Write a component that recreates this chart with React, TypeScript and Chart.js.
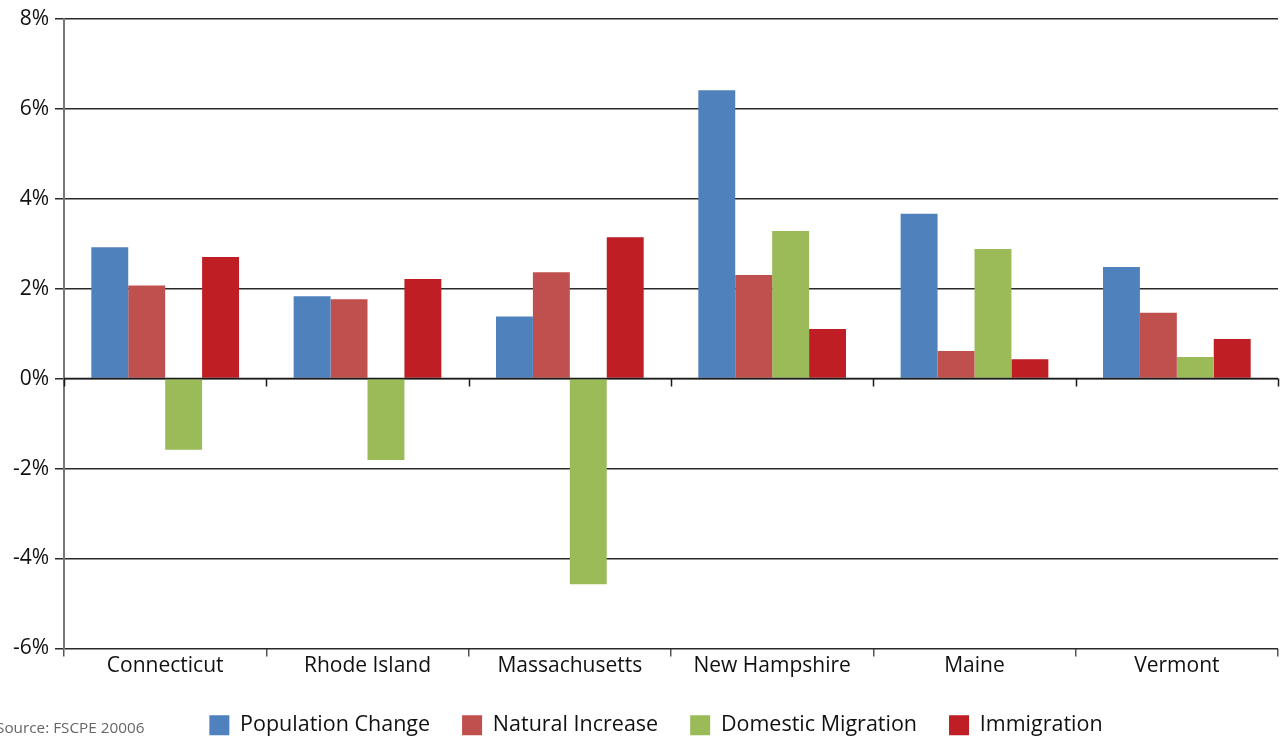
import React, { useRef, useEffect } from 'react';
import { Chart, registerables } from 'chart.js';

Chart.register(...registerables);

const states = ['Connecticut', 'Rhode Island', 'Massachusetts', 'New Hampshire', 'Maine', 'Vermont'];
const populationChange = [2.92, 1.83, 1.38, 6.41, 3.66, 2.48];
const naturalIncrease = [2.07, 1.76, 2.36, 2.30, 0.61, 1.46];
const domesticMigration = [-1.58, -1.81, -4.57, 3.28, 2.88, 0.48];
const immigration = [2.70, 2.21, 3.14, 1.10, 0.43, 0.88];

const FONT = '"Open Sans", "Noto Sans", sans-serif';

// short tick marks hanging from the 0% line at category boundaries
const zeroTicks = {
  id: 'zeroTicks',
  afterLayout(chart: any) {
    // legend in the original sits a little right of centre
    if (chart.legend) {
      chart.legend.left += 17;
      chart.legend.right += 17;
    }
  },
  afterDatasetsDraw(chart: any) {
    const { ctx, scales } = chart;
    const x = scales.x;
    const y0 = scales.y.getPixelForValue(0);
    const n = chart.data.labels.length;
    const w = (x.right - x.left) / n;
    ctx.save();
    ctx.strokeStyle = '#1a1a1a';
    ctx.lineWidth = 1.5;
    ctx.beginPath();
    ctx.moveTo(x.left, y0);
    ctx.lineTo(x.right, y0);
    for (let i = 0; i <= n; i++) {
      const px = Math.round(x.left + i * w) + 0.5;
      ctx.moveTo(px, y0);
      ctx.lineTo(px, y0 + 8);
    }
    ctx.stroke();
    ctx.restore();
  },
};

const BarChart: React.FC = () => {
  const canvas = useRef<HTMLCanvasElement>(null);

  useEffect(() => {
    if (!canvas.current) return;
    const ctx = canvas.current.getContext('2d');
    if (!ctx) return;

    const newChart = new Chart(ctx, {
      type: 'bar',
      data: {
        labels: states,
        datasets: [
          { label: 'Population Change', data: populationChange, backgroundColor: '#4F81BD' },
          { label: 'Natural Increase', data: naturalIncrease, backgroundColor: '#C0504D' },
          { label: 'Domestic Migration', data: domesticMigration, backgroundColor: '#9BBB59' },
          { label: 'Immigration', data: immigration, backgroundColor: '#BE1E24' },
        ],
      },
      options: {
        animation: false,
        responsive: false,
        maintainAspectRatio: false,
        layout: { padding: { top: 10, right: 2, left: 0, bottom: -7 } },
        datasets: { bar: { categoryPercentage: 0.73, barPercentage: 1.0 } },
        plugins: {
          tooltip: { enabled: false },
          legend: {
            position: 'bottom',
            labels: {
              boxWidth: 20,
              boxHeight: 20,
              padding: 32,
              color: '#111',
              font: { family: FONT, size: 21.5 },
            },
          },
        },
        scales: {
          x: {
            grid: {
              offset: true,
              drawOnChartArea: false,
              tickLength: 8,
              color: '#555',
              lineWidth: 1.5,
            },
            border: { display: false },
            ticks: {
              color: '#111',
              padding: -3,
              font: { family: FONT, size: 21 },
            },
            afterFit: (scale: any) => {
              scale.height = 34;
            },
          },
          y: {
            min: -6,
            max: 8,
            ticks: {
              stepSize: 2,
              color: '#111',
              padding: 6,
              font: { family: FONT, size: 21 },
              callback: (v: any) => v + '%',
            },
            grid: {
              color: '#2a2a2a',
              lineWidth: 1.5,
              tickLength: 9,
            },
            border: { display: true, color: '#777', width: 2 },
            afterFit: (scale: any) => {
              scale.width = 64;
            },
          },
        },
      },
      plugins: [zeroTicks],
    });

    return () => newChart.destroy();
  }, []);

  return (
    <div style={{ position: 'absolute', left: 0, top: 0, width: 1280, height: 739, background: '#fff', overflow: 'hidden' }}>
      <canvas ref={canvas} width={1280} height={739}></canvas>
      <div
        style={{
          position: 'absolute',
          left: -4,
          top: 717,
          fontFamily: FONT,
          fontSize: 15.3,
          color: '#666',
          whiteSpace: 'nowrap',
        }}
      >
        Source: FSCPE 20006
      </div>
    </div>
  );
};

export default function App() {
  return <BarChart />;
}
